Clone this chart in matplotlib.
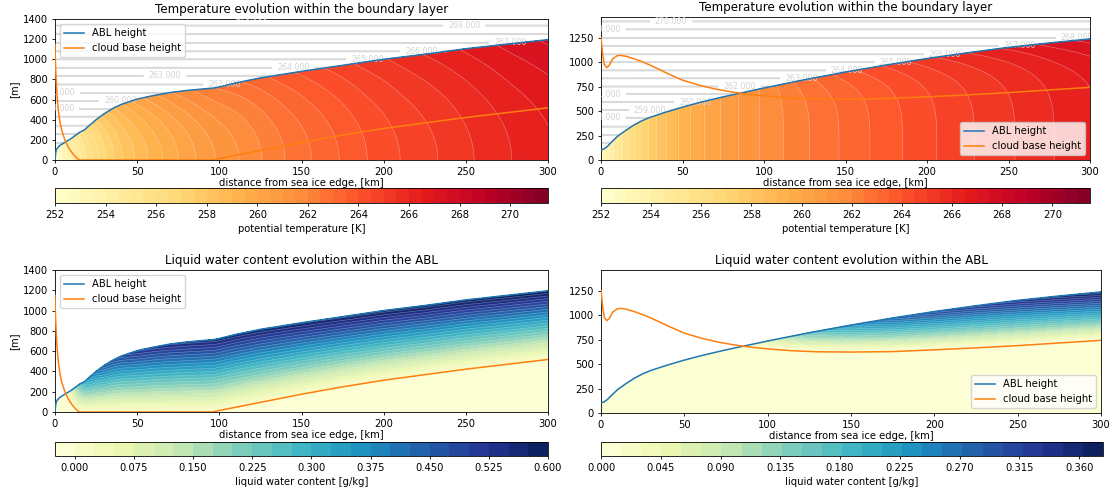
import numpy as np
import matplotlib
matplotlib.use('Agg')
import matplotlib.pyplot as plt

matplotlib.rcParams.update({'font.size': 7.2, 'font.family': 'DejaVu Sans',
                            'axes.titlesize': 8.6, 'axes.titlepad': 4.3,
                            'axes.labelpad': 2.8, 'axes.linewidth': 0.6,
                            'xtick.major.size': 2.5, 'ytick.major.size': 2.5,
                            'xtick.major.width': 0.6, 'ytick.major.width': 0.6,
                            'xtick.major.pad': 2.5, 'ytick.major.pad': 2.5,
                            'legend.fontsize': 7.2})

# ---------------- values ----------------
# left column (first run)
xa_l = [0, 0.5, 1, 3, 5, 10, 15, 18, 20, 25, 30, 35, 40, 50, 60, 70, 80, 90, 97, 100,
        110, 125, 150, 175, 200, 225, 250, 275, 300]
abl_l = [0, 80, 110, 145, 165, 215, 275, 300, 330, 400, 460, 510, 550, 605, 640, 670, 690,
         705, 715, 725, 765, 815, 880, 940, 1000, 1050, 1105, 1150, 1195]
xc_l = [0, 0.3, 0.7, 1.2, 2, 3, 4, 6, 8, 10, 12, 14, 15, 96, 100, 125, 150, 175, 200,
        225, 250, 275, 300]
cb_l = [1150, 950, 800, 650, 500, 380, 300, 200, 130, 80, 40, 8, 0, 0, 15, 95, 175, 248,
        313, 368, 422, 470, 518]

# right column (second run)
xa_r = [0, 2, 4, 6, 10, 15, 20, 25, 30, 40, 50, 60, 75, 100, 125, 150, 175, 200, 225,
        250, 275, 300]
abl_r = [100, 115, 140, 175, 240, 300, 355, 400, 435, 490, 540, 585, 645, 735, 820, 898,
         970, 1036, 1095, 1150, 1195, 1236]
xc_r = [0, 1, 2, 3.5, 5, 7, 10, 12, 15, 20, 25, 30, 40, 50, 60, 70, 80, 90, 100, 115,
        130, 150, 175, 200, 225, 250, 275, 300]
cb_r = [1250, 1080, 975, 943, 965, 1030, 1065, 1068, 1060, 1035, 1005, 970, 890, 815,
        765, 725, 695, 672, 655, 635, 625, 622, 627, 645, 665, 688, 715, 742]

# potential temperature near the surface and jump to the ABL top
xt_l = [0, 5, 10, 15, 20, 30, 40, 50, 60, 75, 90, 100, 112, 126, 140, 156, 173, 190, 210,
        233, 255, 278, 300]
ts_l = [252.0, 253.0, 254.0, 254.9, 255.7, 256.9, 257.9, 258.6, 259.2, 260.0, 260.7,
        261.1, 261.5, 262.0, 262.5, 263.0, 263.5, 264.0, 264.5, 265.0, 265.5, 266.0, 266.4]
xd_l = [0, 10, 20, 30, 50, 75, 100, 150, 200, 300]
dt_l = [0, 0.6, 1.0, 1.4, 1.7, 1.7, 1.5, 1.3, 1.2, 1.2]

xt_r = [0, 5, 10, 15, 20, 26, 34, 40, 50, 59, 71, 84, 97, 112, 128, 146, 165, 185, 206,
        229, 254, 278, 300]
ts_r = [253.0, 254.0, 255.0, 255.8, 256.5, 257.2, 258.0, 258.5, 259.2, 259.8, 260.4,
        261.0, 261.5, 262.0, 262.5, 263.0, 263.5, 264.0, 264.5, 265.0, 265.5, 266.0, 266.4]
xd_r = [0, 100, 125, 150, 200, 250, 300]
dt_r = [0, 0, 0.4, 0.7, 1.0, 1.2, 1.3]

# free atmosphere isentropes (grey lines)
free_theta = [253, 254, 255, 256, 257, 258, 259, 260, 261, 262, 263, 264, 265, 266, 267,
              268, 269, 270, 271]
free_z = [0, 85, 170, 255, 340, 430, 510, 590, 670, 750, 835, 915, 1000, 1080, 1165,
          1250, 1335, 1415, 1500]
# where the isentrope labels sit (km, m)
lab_l = [(120, 1415), (249, 1335), (277, 1165), (223, 1080), (190, 1000), (145, 915),
         (67, 835), (103, 750), (2, 670), (40, 590), (2, 510)]
lab_r = [(43, 1415), (2, 1335), (292, 1250), (257, 1165), (211, 1080), (181, 1000),
         (151, 915), (123, 835), (85, 750), (2, 670), (58, 590), (30, 510), (2, 430)]

# liquid water content at the ABL top
xl_l = [0, 8, 10, 15, 20, 30, 50, 75, 100, 150, 200, 250, 300]
ltop_l = [0, 0, 0.08, 0.25, 0.35, 0.45, 0.53, 0.56, 0.57, 0.58, 0.59, 0.595, 0.6]
xl_r = [0, 84, 100, 125, 150, 175, 200, 250, 300]
ltop_r = [0, 0, 0.06, 0.16, 0.23, 0.28, 0.31, 0.345, 0.375]

theta_levels = np.arange(252, 272, 0.5)
theta_ticks = [252, 254, 256, 258, 260, 262, 264, 266, 268, 270]
lwc_levels_l = np.arange(-0.025, 0.6001, 0.025)
lwc_ticks_l = [0, 0.075, 0.15, 0.225, 0.3, 0.375, 0.45, 0.525, 0.6]
lwc_levels_r = np.linspace(0, 0.378, 26)
lwc_ticks_r = [0, 0.045, 0.09, 0.135, 0.18, 0.225, 0.27, 0.315, 0.36]

xg = np.linspace(0, 300, 601)
eta = np.linspace(0, 1, 150)
ztop = 1500


def grids(xa, abl):
    h = np.interp(xg, xa, abl)
    X = np.tile(xg, (len(eta), 1))
    Z = eta[:, None] * h[None, :]
    Zf = h[None, :] + eta[:, None] * (ztop - h[None, :])
    return h, X, Z, Zf


def decorate(ax, xa, abl, xc, cb, title, ylim, yticks, loc, ylab):
    ax.plot(xa, abl, color='#1f77b4', lw=1.1, label='ABL height', zorder=4)
    ax.plot(xc, cb, color='#ff7f0e', lw=1.1, label='cloud base height', zorder=4)
    ax.set_xlim(0, 300)
    ax.set_ylim(*ylim)
    ax.set_yticks(yticks)
    ax.set_title(title)
    ax.set_xlabel('distance from sea ice edge, [km]', labelpad=1)
    if ylab:
        ax.set_ylabel('[m]')
    ax.legend(loc=loc)


def temp_panel(ax, cax, xa, abl, xc, cb, xt, ts, xd, dt, p, labpos, ylim, yticks, loc, ylab):
    h, X, Z, Zf = grids(xa, abl)
    T = np.interp(xg, xt, ts)[None, :] + np.interp(xg, xd, dt)[None, :] * eta[:, None] ** p
    cf = ax.contourf(X, Z, T, levels=theta_levels, cmap='YlOrRd', zorder=1)
    ax.contour(X, Z, T, levels=theta_levels, colors='white', linewidths=0.4, alpha=0.45,
               zorder=2)
    Tf = np.interp(Zf, free_z, free_theta)
    cs = ax.contour(X, Zf, Tf, levels=free_theta, colors='#d9d9d9', linewidths=1.45,
                    zorder=2)
    ax.clabel(cs, fmt='%.3f', fontsize=5.7, inline=True, colors='#d3d3d3', manual=labpos)
    for t in cs.labelTexts:
        t.set_clip_on(True)
    decorate(ax, xa, abl, xc, cb, 'Temperature evolution within the boundary layer',
             ylim, yticks, loc, ylab)
    cbar = plt.colorbar(cf, cax=cax, orientation='horizontal', ticks=theta_ticks)
    cbar.set_label('potential temperature [K]')
    cbar.outline.set_linewidth(0.6)


def lwc_panel(ax, cax, xa, abl, xc, cb, xl, ltop, p, levels, ticks, ylim, yticks, loc, ylab):
    h, X, Z, Zf = grids(xa, abl)
    zb = np.interp(xg, xc, cb)
    depth = np.maximum(h - zb, 1.0)
    frac = np.clip((Z - zb[None, :]) / depth[None, :], 0, 1)
    L = np.interp(xg, xl, ltop)[None, :] * frac ** p
    cf = ax.contourf(X, Z, L, levels=levels, cmap='YlGnBu', zorder=1)
    ax.contour(X, Z, L, levels=levels[1:], colors='white', linewidths=0.4, alpha=0.4,
               zorder=2)
    decorate(ax, xa, abl, xc, cb, 'Liquid water content evolution within the ABL',
             ylim, yticks, loc, ylab)
    cbar = plt.colorbar(cf, cax=cax, orientation='horizontal', ticks=ticks, format='%.3f')
    cbar.set_label('liquid water content [g/kg]')
    cbar.outline.set_linewidth(0.6)


W, H = 1117, 495
fig = plt.figure(figsize=(W / 100, H / 100), dpi=100)


def box(x0, x1, y0, y1):
    return fig.add_axes([x0 / W, 1 - y1 / H, (x1 - x0) / W, (y1 - y0) / H])


ax1, cax1 = box(55, 548, 19, 160), box(55, 548, 188, 203)
ax2, cax2 = box(601, 1090, 17, 160), box(601, 1090, 188, 203)
ax3, cax3 = box(55, 548, 270, 412), box(55, 548, 442, 456)
ax4, cax4 = box(601, 1101, 270, 413), box(601, 1103, 442, 456)

temp_panel(ax1, cax1, xa_l, abl_l, xc_l, cb_l, xt_l, ts_l, xd_l, dt_l, 2, lab_l,
           (0, 1400), range(0, 1401, 200), 'upper left', True)
temp_panel(ax2, cax2, xa_r, abl_r, xc_r, cb_r, xt_r, ts_r, xd_r, dt_r, 5, lab_r,
           (0, 1460), range(0, 1251, 250), 'lower right', False)
lwc_panel(ax3, cax3, xa_l, abl_l, xc_l, cb_l, xl_l, ltop_l, 1.1, lwc_levels_l, lwc_ticks_l,
          (0, 1400), range(0, 1401, 200), 'upper left', True)
lwc_panel(ax4, cax4, xa_r, abl_r, xc_r, cb_r, xl_r, ltop_r, 1.0, lwc_levels_r, lwc_ticks_r,
          (0, 1460), range(0, 1251, 250), 'lower right', False)

fig.savefig('out.png', dpi=100)
